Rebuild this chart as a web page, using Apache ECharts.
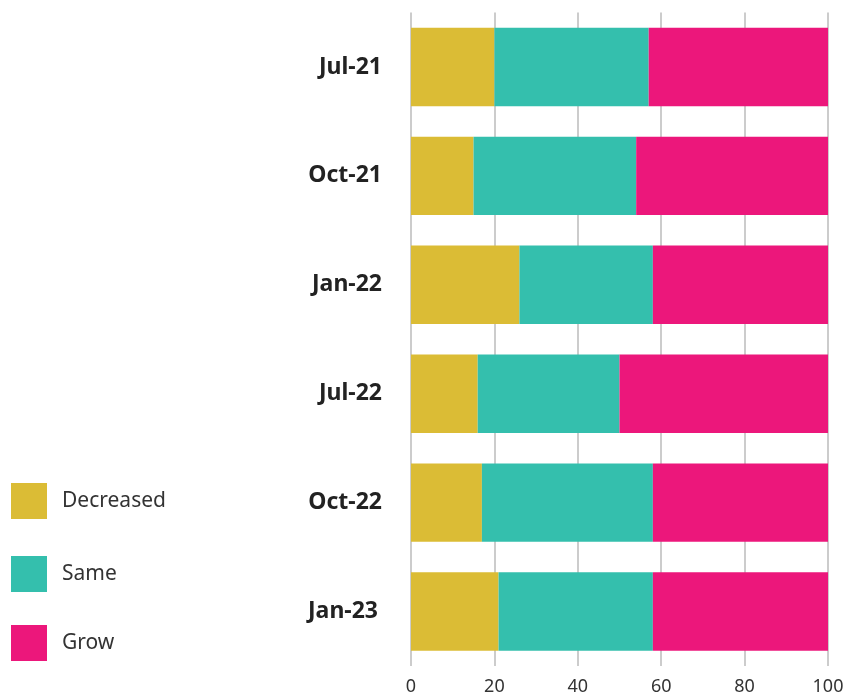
<!DOCTYPE html>
<html><head><meta charset="utf-8">
<script src="https://cdn.jsdelivr.net/npm/echarts@6/dist/echarts.min.js"></script>
<style>html,body{margin:0;padding:0;background:#fff}#c{width:852px;height:696px}</style>
</head><body><div id="c"></div>
<script>
const categories = ['Jul-21','Oct-21','Jan-22','Jul-22','Oct-22','Jan-23'];
const decreased = [20,15,26,16,17,21];
const same = [37,39,32,34,41,37];
const grow = [43,46,42,50,42,42];
const xTicks = [0,20,40,60,80,100];
const seriesNames = ['Decreased','Same','Grow'];
const colors = ['#DBBC35','#34BFAD','#EC177B'];

const chart = echarts.init(document.getElementById('c'), null, {renderer:'canvas'});
const font = '"Noto Sans", sans-serif';
const legendTops = [483, 556, 625];
chart.setOption({
  animation:false,
  color: colors,
  grid:{left:411, right:24, top:12.5, bottom:30, containLabel:false},
  legend: seriesNames.map((n,i)=>({
    data:[n], orient:'vertical', left:11, top:legendTops[i], itemWidth:36, itemHeight:36,
    icon:'rect', padding:0, textStyle:{fontFamily:font, fontSize:21, color:'#333', padding:[4,0,0,10]},
    selectedMode:false
  })),
  xAxis:{type:'value', min:xTicks[0], max:xTicks[xTicks.length-1], interval:xTicks[1]-xTicks[0],
    axisLine:{show:false}, axisTick:{show:false},
    splitLine:{show:true, lineStyle:{color:'#bbbbbb', width:1.5}},
    axisLabel:{fontFamily:font, fontSize:18, color:'#333', margin:12}},
  yAxis:{type:'category',
    data:categories.map((c,i)=> i===categories.length-1 ? {value:c, textStyle:{padding:[6,4,0,0]}} : c),
    inverse:true,
    axisLine:{show:false}, axisTick:{show:false},
    axisLabel:{fontFamily:font, fontSize:23, fontWeight:'bold', color:'#222', margin:29}},
  series:[decreased,same,grow].map((d,i)=>({
    name:seriesNames[i], type:'bar', stack:'t', data:d, barCategoryGap:'28%'
  }))
});
</script></body></html>
